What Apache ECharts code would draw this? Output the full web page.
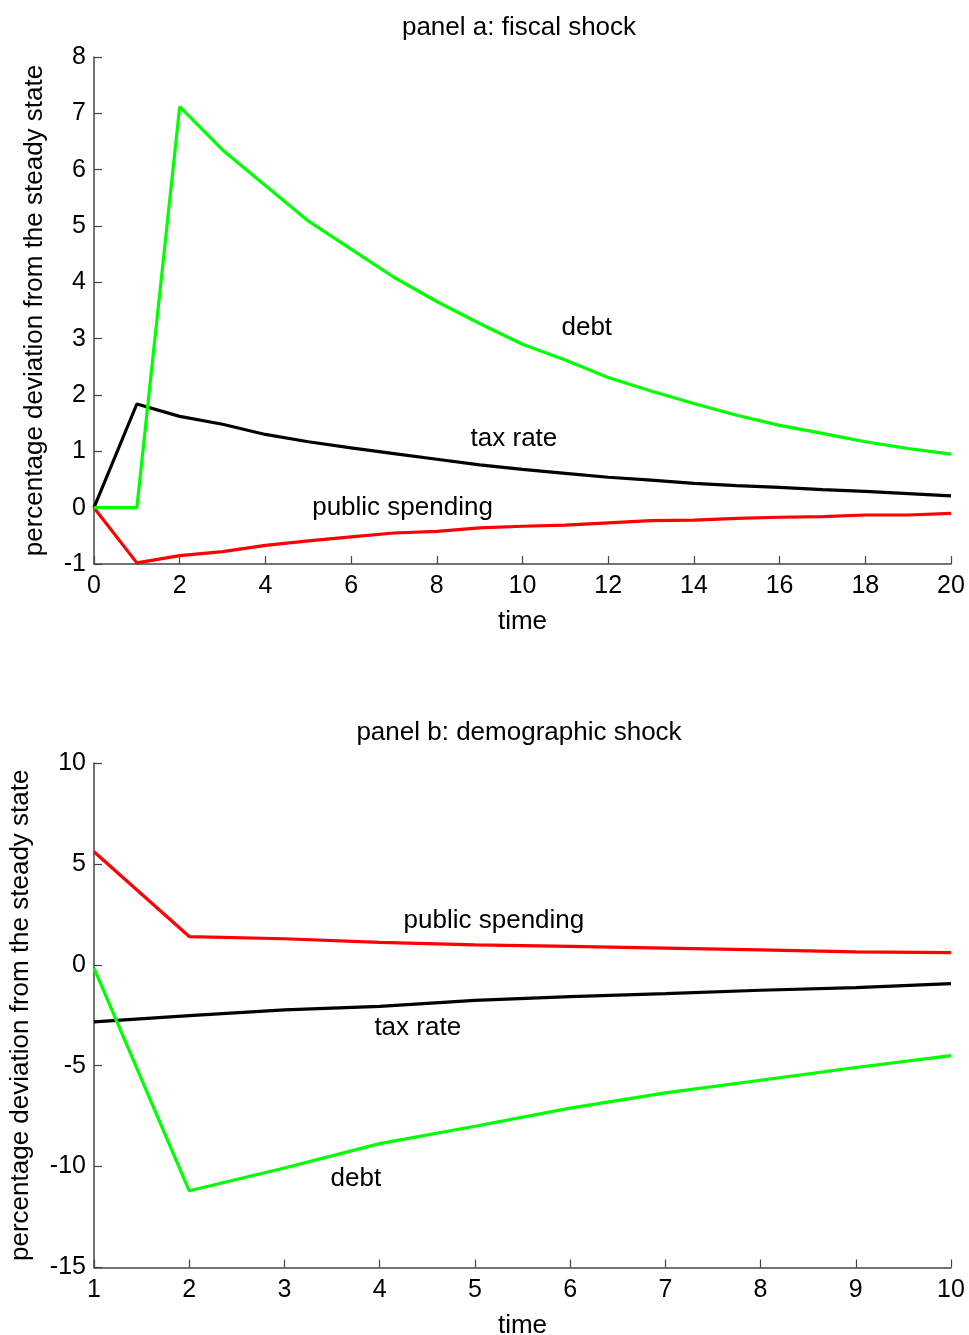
<!DOCTYPE html>
<html>
<head>
<meta charset="utf-8">
<script src="https://cdn.jsdelivr.net/npm/echarts@6/dist/echarts.min.js"></script>
<style>html,body{margin:0;padding:0;background:#fff}#c{width:969px;height:1335px}</style>
</head>
<body>
<div id="c"></div>
<script>
// Panel a: fiscal shock (t = 0..20)
const timeA = [0,1,2,3,4,5,6,7,8,9,10,11,12,13,14,15,16,17,18,19,20];
const debtA = [0,0,7.12,6.35,5.72,5.09,4.59,4.09,3.66,3.27,2.9,2.62,2.31,2.07,1.85,1.64,1.46,1.32,1.17,1.05,0.95];
const taxA = [0,1.84,1.62,1.48,1.3,1.17,1.06,0.96,0.86,0.76,0.68,0.61,0.54,0.49,0.43,0.39,0.36,0.32,0.29,0.25,0.21];
const spendA = [0,-0.98,-0.85,-0.78,-0.67,-0.59,-0.52,-0.45,-0.42,-0.36,-0.33,-0.31,-0.27,-0.23,-0.22,-0.19,-0.17,-0.16,-0.13,-0.13,-0.1];

// Panel b: demographic shock (t = 1..10)
const timeB = [1,2,3,4,5,6,7,8,9,10];
const spendB = [5.6,1.4,1.29,1.11,0.99,0.91,0.83,0.74,0.64,0.6];
const taxB = [-2.83,-2.52,-2.23,-2.06,-1.76,-1.58,-1.43,-1.26,-1.13,-0.93];
const debtB = [-0.17,-11.2,-10.07,-8.86,-8.0,-7.1,-6.35,-5.72,-5.09,-4.5];

const titles = ['panel a: fiscal shock', 'panel b: demographic shock'];
const yName = 'percentage deviation from the steady state';
const xName = 'time';

const FONT = 'Liberation Sans, Arial, sans-serif';
const axisColor = '#444';
const TICK_FS = 25, TEXT_FS = 26;

function pairs(xs, ys){ return xs.map((x,i)=>[x, ys[i]]); }

function xAxisCfg(idx, min, max, interval){
  return {
    type:'value', gridIndex: idx, min, max, interval,
    name: xName, nameLocation:'middle', nameGap: 45,
    nameTextStyle:{color:'#000', fontSize:TEXT_FS, fontFamily:FONT},
    axisLine:{show:true, onZero:false, lineStyle:{color:axisColor, width:1.5}},
    axisTick:{show:true, inside:true, length:8, lineStyle:{color:axisColor, width:1.2}},
    axisLabel:{color:'#000', fontSize:TICK_FS, fontFamily:FONT, margin:10},
    splitLine:{show:false}
  };
}
function yAxisCfg(idx, min, max, interval, gap){
  return {
    type:'value', gridIndex: idx, min, max, interval,
    name: yName, nameLocation:'middle', nameGap: gap,
    nameTextStyle:{color:'#000', fontSize:TEXT_FS, fontFamily:FONT},
    axisLine:{show:true, onZero:false, lineStyle:{color:axisColor, width:1.5}},
    axisTick:{show:true, inside:true, length:8, lineStyle:{color:axisColor, width:1.2}},
    axisLabel:{color:'#000', fontSize:TICK_FS, fontFamily:FONT, margin:8},
    splitLine:{show:false}
  };
}
function line(idx, data, color){
  return {type:'line', xAxisIndex:idx, yAxisIndex:idx, data, symbol:'none',
    lineStyle:{color, width:3.2}, itemStyle:{color}, silent:true, animation:false};
}

const chart = echarts.init(document.getElementById('c'), null, {renderer:'canvas'});
const option = {
  backgroundColor:'#fff',
  animation:false,
  grid:[
    {left:94, width:857, top:57, height:507, containLabel:false, outerBoundsMode:'none'},
    {left:94, width:857, top:763, height:504.5, containLabel:false, outerBoundsMode:'none'}
  ],
  xAxis:[ xAxisCfg(0, 0, 20, 2), xAxisCfg(1, 1, 10, 1) ],
  yAxis:[ yAxisCfg(0, -1, 8, 1, 46), yAxisCfg(1, -15, 10, 5, 60) ],
  series:[
    line(0, pairs(timeA, taxA), '#000000'),
    line(0, pairs(timeA, spendA), '#ff0000'),
    line(0, pairs(timeA, debtA), '#00ff00'),
    line(1, pairs(timeB, taxB), '#000000'),
    line(1, pairs(timeB, spendB), '#ff0000'),
    line(1, pairs(timeB, debtB), '#00ff00')
  ]
};
chart.setOption(option);

// Annotations placed at data coordinates
const notes = [
  {grid:0, at:[11.5, 3.2], text:'debt'},
  {grid:0, at:[9.8, 1.23], text:'tax rate'},
  {grid:0, at:[7.2, 0.0], text:'public spending'},
  {grid:1, at:[5.2, 2.2], text:'public spending'},
  {grid:1, at:[4.4, -3.1], text:'tax rate'},
  {grid:1, at:[3.75, -10.6], text:'debt'}
];
const g = notes.map(n => {
  const p = chart.convertToPixel({xAxisIndex:n.grid, yAxisIndex:n.grid}, n.at);
  return {type:'text', x:p[0], y:p[1], silent:true,
    style:{text:n.text, fill:'#000', font:TEXT_FS + 'px ' + FONT, textAlign:'center', textVerticalAlign:'middle'}};
});
// Panel titles
g.push({type:'text', x:519, y:28, silent:true,
  style:{text:titles[0], fill:'#000', font:TEXT_FS + 'px ' + FONT, textAlign:'center', textVerticalAlign:'middle'}});
g.push({type:'text', x:519, y:733, silent:true,
  style:{text:titles[1], fill:'#000', font:TEXT_FS + 'px ' + FONT, textAlign:'center', textVerticalAlign:'middle'}});
chart.setOption({graphic:g});
</script>
</body>
</html>
